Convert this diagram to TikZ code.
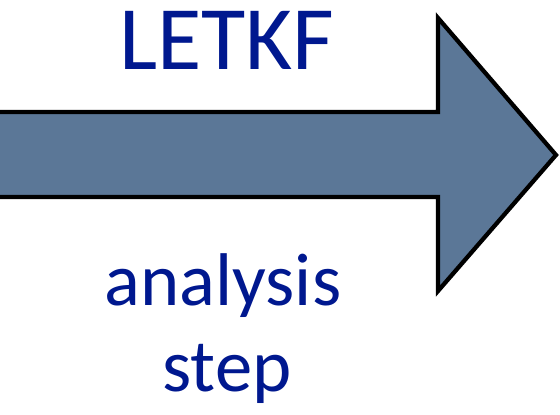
\documentclass[tikz,border=0pt]{standalone}
\usepackage{fontspec}
\setmainfont{Carlito}
\definecolor{arrowblue}{HTML}{5B7797}
\definecolor{textnavy}{HTML}{00188F}
\tikzset{
  bigarrow/.style={draw=black,fill=arrowblue,line width=3.2pt,line join=miter},
  label/.style={text=textnavy,font=\fontsize{56}{60}\selectfont,inner sep=0pt,align=center}
}
\begin{document}
\begin{tikzpicture}[x=0.75pt,y=-0.75pt]
  \useasboundingbox (0,0) rectangle (560,414);
  % LETKF arrow
  \draw[bigarrow] (-10,112) -- (438,112) -- (438,18) -- (556,155)
    -- (438,291) -- (438,197) -- (-10,197) -- cycle;
  \node[label,anchor=base,font=\fontsize{68}{70}\selectfont] (Method) at (227,69) {LETKF};
  \node[label,anchor=base] (Analysis) at (223,305) {analysis};
  \node[label,anchor=base] (Step) at (227,391) {step};
\end{tikzpicture}
\end{document}
